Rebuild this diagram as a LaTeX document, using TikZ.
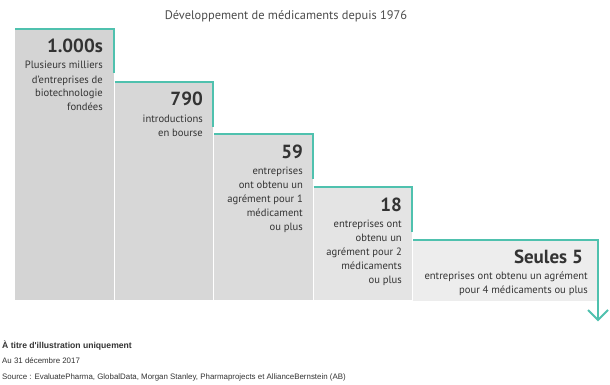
\documentclass[tikz,border=0pt]{standalone}
\usepackage{fontspec}
\setmainfont{PT Sans}
\newfontfamily\footfont{Liberation Sans}
\usetikzlibrary{calc}
\definecolor{tealc}{HTML}{4FC1AE}
\definecolor{gA}{HTML}{D4D4D4}
\definecolor{gB}{HTML}{D7D7D7}
\definecolor{gC}{HTML}{DBDBDB}
\definecolor{gD}{HTML}{E4E4E4}
\definecolor{gE}{HTML}{EDEDED}
\definecolor{txt}{HTML}{333333}
\tikzset{
  bar/.style={draw=none, inner sep=0pt, anchor=north west, minimum height=271pt},
  tealline/.style={draw=tealc, line width=2pt, line join=miter},
  num/.style={font=\fontsize{19}{21}\selectfont\bfseries, text=txt, inner sep=0pt, anchor=base east},
  desc/.style={font=\fontsize{10.6}{14}\selectfont, text=txt, inner sep=0pt, align=right, anchor=base east},
  foot/.style={font=\footfont\fontsize{7.9}{9}\selectfont, text=txt, inner sep=0pt, anchor=base west}
}
\begin{document}
\begin{tikzpicture}[x=1pt,y=-1pt]
\useasboundingbox[fill=white] (0,0) rectangle (610,385);
% title
\node[font=\fontsize{12.4}{14}\selectfont, text=black!70, inner sep=0pt, anchor=base] (title) at (286,19.5) {Développement de médicaments depuis 1976};
% bars
\node[bar, fill=gA, minimum width=98.5pt] (b1) at (15,29) {};
\node[bar, fill=gB, minimum width=98.5pt, minimum height=218pt] (b2) at (114.5,82) {};
\node[bar, fill=gC, minimum width=98.5pt, minimum height=166pt] (b3) at (214,134) {};
\node[bar, fill=gD, minimum width=98.5pt, minimum height=113pt] (b4) at (313.5,187) {};
\node[bar, fill=gE, minimum width=184pt, minimum height=61pt] (b5) at (413,240) {};
% teal steps
\draw[tealline] (b1.north west) -- (b1.north east) -- ++(0,44);
\draw[tealline] (b2.north west) -- (b2.north east) -- ++(0,45);
\draw[tealline] (b3.north west) -- (b3.north east) -- ++(0,45);
\draw[tealline] (b4.north west) -- (b4.north east) -- ++(0,45);
\coordinate (tip) at (598,320);
\draw[tealline] (b5.north west) -- (b5.north east -| tip) -- (tip);
\draw[tealline] ($(tip)+(-10,-10)$) -- (tip) -- ($(tip)+(10,-10)$);
% texts (multi-line nodes: base = baseline of last line)
\node[num] (n1) at (103,53) {1.000s};
\node[desc] (d1) at (103,111) {Plusieurs milliers\\d'entreprises de\\biotechnologie\\fondées};
\node[num] (n2) at (203,106) {790};
\node[desc] (d2) at (203,136) {introductions\\en bourse};
\node[num] (n3) at (303,158) {59};
\node[desc] (d3) at (303,230) {entreprises\\ont obtenu un\\agrément pour 1\\médicament\\ou plus};
\node[num] (n4) at (402,211) {18};
\node[desc] (d4) at (402,283) {entreprises ont\\obtenu un\\agrément pour 2\\médicaments\\ou plus};
\node[num] (n5) at (583,263) {Seules 5};
\node[desc] (d5) at (588,293) {entreprises ont obtenu un agrément\\pour 4 médicaments ou plus};
% footer
\node[foot, font=\footfont\fontsize{8.6}{10}\selectfont\bfseries] (f1) at (2,348) {À titre d'illustration uniquement};
\node[foot] (f2) at (2,363) {Au 31 décembre 2017};
\node[foot] (f3) at (2,379) {Source : EvaluatePharma, GlobalData, Morgan Stanley, Pharmaprojects et AllianceBernstein (AB)};
\end{tikzpicture}
\end{document}
